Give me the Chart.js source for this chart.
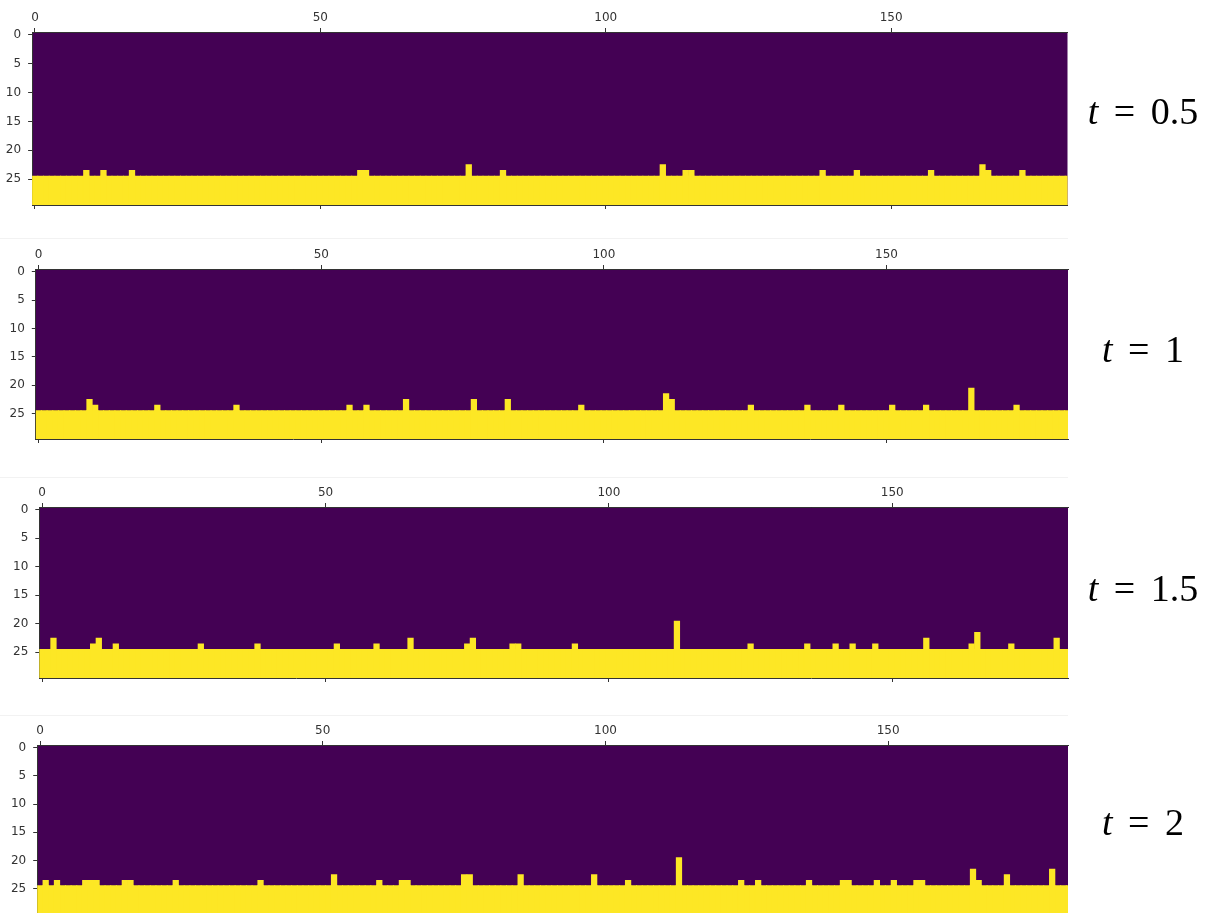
<!DOCTYPE html>
<html><head><meta charset="utf-8">
<script src="https://cdn.jsdelivr.net/npm/chart.js@4/dist/chart.umd.min.js"></script>
<style>
html,body{margin:0;padding:0;background:#fff;width:1222px;height:913px;overflow:hidden;position:relative;}
canvas{position:absolute;left:0;}
.lbl{position:absolute;font-family:"Liberation Serif",serif;font-size:38px;color:#000;white-space:nowrap;transform:translate(-50%,-50%);z-index:5;word-spacing:6px;}
.sep{position:absolute;left:0;width:1068px;height:1px;background:#f2f2f2;}
</style></head><body>
<script>
// ---- data ----
const nRows = 30;            // image rows 0..29
const nCols = 183;           // image columns 0..182
const baseCells = 5;         // yellow cells at bottom of every column (rows 25-29)
const panelLabels = ['0.5', '1', '1.5', '2'];
// [column, extra yellow cells above the base band]
const spikesT05 = [[9,1],[12,1],[17,1],[57,1],[58,1],[76,2],[82,1],[110,2],[114,1],[115,1],[138,1],[144,1],[157,1],[166,2],[167,1],[173,1]];
const spikesT1 = [[9,2],[10,1],[21,1],[35,1],[55,1],[58,1],[65,2],[77,2],[83,2],[96,1],[111,3],[112,2],[126,1],[136,1],[142,1],[151,1],[157,1],[165,4],[173,1]];
const spikesT15 = [[2,2],[9,1],[10,2],[13,1],[28,1],[38,1],[52,1],[59,1],[65,2],[75,1],[76,2],[83,1],[84,1],[94,1],[112,5],[125,1],[135,1],[140,1],[143,1],[147,1],[156,2],[164,1],[165,3],[171,1],[179,2]];
const spikesT2 = [[1,1],[3,1],[8,1],[9,1],[10,1],[15,1],[16,1],[24,1],[39,1],[52,2],[60,1],[64,1],[65,1],[75,2],[76,2],[85,2],[98,2],[104,1],[113,5],[124,1],[127,1],[136,1],[142,1],[143,1],[148,1],[151,1],[155,1],[156,1],[165,3],[166,1],[171,2],[179,3]];
const xTickValues = [0, 50, 100, 150];
const yTickValues = [0, 5, 10, 15, 20, 25];

// ---- layout (positions only) ----
const panelSpikes = [spikesT05, spikesT1, spikesT15, spikesT2];
const layouts = [
  {top:32,  bottom:204.5, left:32.1, right:1067.5, xmax:180.9, labelY:111},
  {top:269, bottom:439,   left:35.8, right:1068,   xmax:182.1, labelY:349},
  {top:507, bottom:678,   left:39.3, right:1068,   xmax:181.0, labelY:588},
  {top:745, bottom:914,   left:37.2, right:1068,   xmax:181.8, labelY:822}
];
const PURPLE = '#440154', YELLOW = '#fde725', INK = '#333333';
const TOPAX = 28, BOTAX = 10, W = 1222;
const tickFont = {family:'DejaVu Sans', size:12};

[238, 477, 715].forEach(y => {
  const d = document.createElement('div'); d.className = 'sep'; d.style.top = y + 'px'; document.body.appendChild(d);
});

const bgPlugin = {
  id: 'bg',
  beforeDraw(chart) {
    const {ctx, chartArea: a} = chart;
    ctx.save(); ctx.fillStyle = PURPLE;
    ctx.fillRect(a.left, a.top, a.right - a.left, a.bottom - a.top);
    ctx.restore();
  }
};

function baseColumns() {
  const pts = [];
  for (let c = 0; c < nCols; c++) pts.push({x: c, y: [nRows - 0.5, nRows - baseCells - 0.5]});
  return pts;
}
function spikeColumns(spikes) {
  return spikes.map(([c, extra]) => ({x: c, y: [nRows - 0.5, nRows - baseCells - extra - 0.5]}));
}

panelSpikes.forEach((spikes, i) => {
  const L = layouts[i];
  const canvas = document.createElement('canvas');
  const H = Math.round(TOPAX + (L.bottom - L.top) + BOTAX);
  canvas.width = W; canvas.height = H;
  canvas.style.width = W + 'px'; canvas.style.height = H + 'px';
  canvas.style.top = (L.top - TOPAX) + 'px';
  document.body.appendChild(canvas);

  const setTicks = vals => s => { s.ticks = vals.map(v => ({value: v})); };
  new Chart(canvas, {
    type: 'bar',
    data: { datasets: [
      { data: spikeColumns(spikes), backgroundColor: YELLOW, borderWidth: 0, inflateAmount: 0.3,
        barPercentage: 1, categoryPercentage: 1, grouped: false, xAxisID: 'x', yAxisID: 'y' },
      { data: baseColumns(), backgroundColor: YELLOW, borderWidth: 0, inflateAmount: 0.5,
        barPercentage: 1, categoryPercentage: 1, grouped: false, xAxisID: 'x', yAxisID: 'y' }
    ]},
    options: {
      responsive: false, animation: false, devicePixelRatio: 1,
      layout: { padding: {left: 0, right: W - L.right, top: 0, bottom: 0} },
      plugins: { legend: {display: false}, tooltip: {enabled: false} },
      scales: {
        x: {
          type: 'linear', position: 'top', min: -0.5, max: L.xmax, offset: false,
          afterBuildTicks: setTicks(xTickValues),
          afterFit: s => { s.height = TOPAX; s.paddingLeft = 0; s.paddingRight = 0; },
          ticks: {font: tickFont, color: INK, padding: 3, maxRotation: 0, autoSkip: false},
          grid: {drawOnChartArea: false, drawTicks: true, tickLength: 4, color: INK, tickWidth: 1, offset: false},
          border: {display: true, color: INK, width: 1}
        },
        x2: {
          type: 'linear', position: 'bottom', min: -0.5, max: L.xmax, offset: false,
          afterBuildTicks: setTicks(xTickValues),
          afterFit: s => { s.height = BOTAX; s.paddingLeft = 0; s.paddingRight = 0; },
          ticks: {display: false},
          grid: {drawOnChartArea: false, drawTicks: true, tickLength: 4, color: INK, tickWidth: 1, offset: false},
          border: {display: true, color: INK, width: 1}
        },
        y: {
          type: 'linear', position: 'left', reverse: true, min: -0.5, max: nRows - 0.5, beginAtZero: false,
          afterBuildTicks: setTicks(yTickValues),
          afterFit: s => { s.width = L.left; s.paddingTop = 0; s.paddingBottom = 0; },
          ticks: {font: tickFont, color: INK, padding: 7, autoSkip: false},
          grid: {drawOnChartArea: false, drawTicks: true, tickLength: 4, color: INK, tickWidth: 1},
          border: {display: true, color: INK, width: 1}
        }
      }
    },
    plugins: [bgPlugin]
  });

  const lbl = document.createElement('div');
  lbl.className = 'lbl';
  lbl.style.left = '1143px'; lbl.style.top = L.labelY + 'px';
  const it = document.createElement('i'); it.textContent = 't';
  lbl.appendChild(it);
  lbl.appendChild(document.createTextNode(' = ' + panelLabels[i]));
  document.body.appendChild(lbl);
});
</script>
</body></html>
